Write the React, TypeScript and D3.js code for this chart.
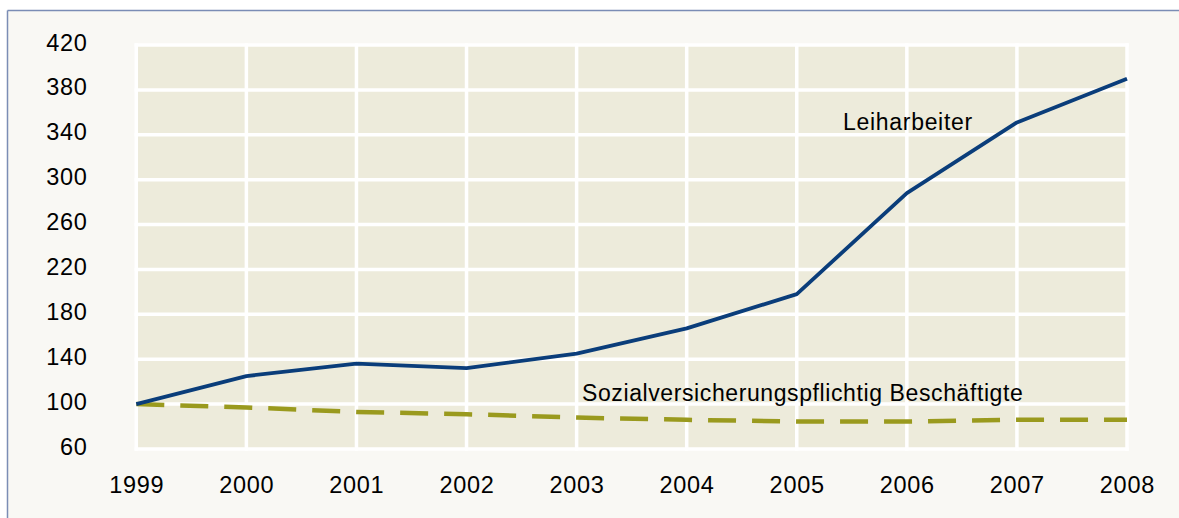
import React from 'react'
import * as d3 from 'd3'

const years = [1999, 2000, 2001, 2002, 2003, 2004, 2005, 2006, 2007, 2008]
const leiharbeiter = [100, 125, 136, 132, 145, 167.5, 198, 288, 351, 390]
const sozial = [100, 97, 93, 91, 88, 86, 84.5, 84.5, 86, 86]
const yTicks = [60, 100, 140, 180, 220, 260, 300, 340, 380, 420]

const W = 1179
const H = 518
const font = '"Liberation Sans", Arial, sans-serif'

export default function App () {
  const x = d3.scaleLinear().domain([1999, 2008]).range([136.3, 1127])
  const y = d3.scaleLinear().domain([60, 420]).range([449, 45])
  const line = d3.line<number>().x((d, i) => x(years[i])).y(d => y(d))

  return (
    <svg width={W} height={H} style={{position: 'absolute', left: 0, top: 0, display: 'block'}}>
      <rect x={0} y={0} width={W} height={H} fill='#ffffff' />
      <rect x={8} y={11} width={W - 8} height={H - 11} fill='#F9F8F4' />
      <line x1={7.5} y1={10.5} x2={W} y2={10.5} stroke='#7B8DB5' strokeWidth={1.5} />
      <line x1={7.5} y1={10.5} x2={7.5} y2={H} stroke='#7B8DB5' strokeWidth={1.5} />

      {/* plot area */}
      <rect x={x(1999)} y={y(420)} width={x(2008) - x(1999)} height={y(60) - y(420)} fill='#EDEBDB' />
      {yTicks.map(t => (
        <line key={'h' + t} x1={x(1999) - 1.75} x2={x(2008) + 1.75} y1={y(t)} y2={y(t)} stroke='#ffffff' strokeWidth={3.5} />
      ))}
      {years.map(yr => (
        <line key={'v' + yr} x1={x(yr)} x2={x(yr)} y1={y(420) - 1.75} y2={y(60) + 1.75} stroke='#ffffff' strokeWidth={3.5} />
      ))}

      {/* series */}
      <path d={line(sozial) || ''} fill='none' stroke='#9A9A1E' strokeWidth={4.5} strokeDasharray='28 16' />
      <path d={line(leiharbeiter) || ''} fill='none' stroke='#0A3D7A' strokeWidth={3.8} strokeLinejoin='round' />

      {/* axis labels */}
      {yTicks.map(t => (
        <text key={'yl' + t} x={87.5} y={y(t) + 5.5} textAnchor='end' fontFamily={font} fontSize={23.5}
          letterSpacing={0.7} fill='#000'>{t}</text>
      ))}
      {years.map(yr => (
        <text key={'xl' + yr} x={x(yr) + 0.4} y={493} textAnchor='middle' fontFamily={font} fontSize={23.5}
          letterSpacing={0.7} fill='#000'>{yr}</text>
      ))}

      <text x={843} y={130} fontFamily={font} fontSize={23} letterSpacing={0.7} fill='#000'>Leiharbeiter</text>
      <text x={582} y={401} fontFamily={font} fontSize={23} letterSpacing={0.6} fill='#000'>Sozialversicherungspflichtig Beschäftigte</text>
    </svg>
  )
}
